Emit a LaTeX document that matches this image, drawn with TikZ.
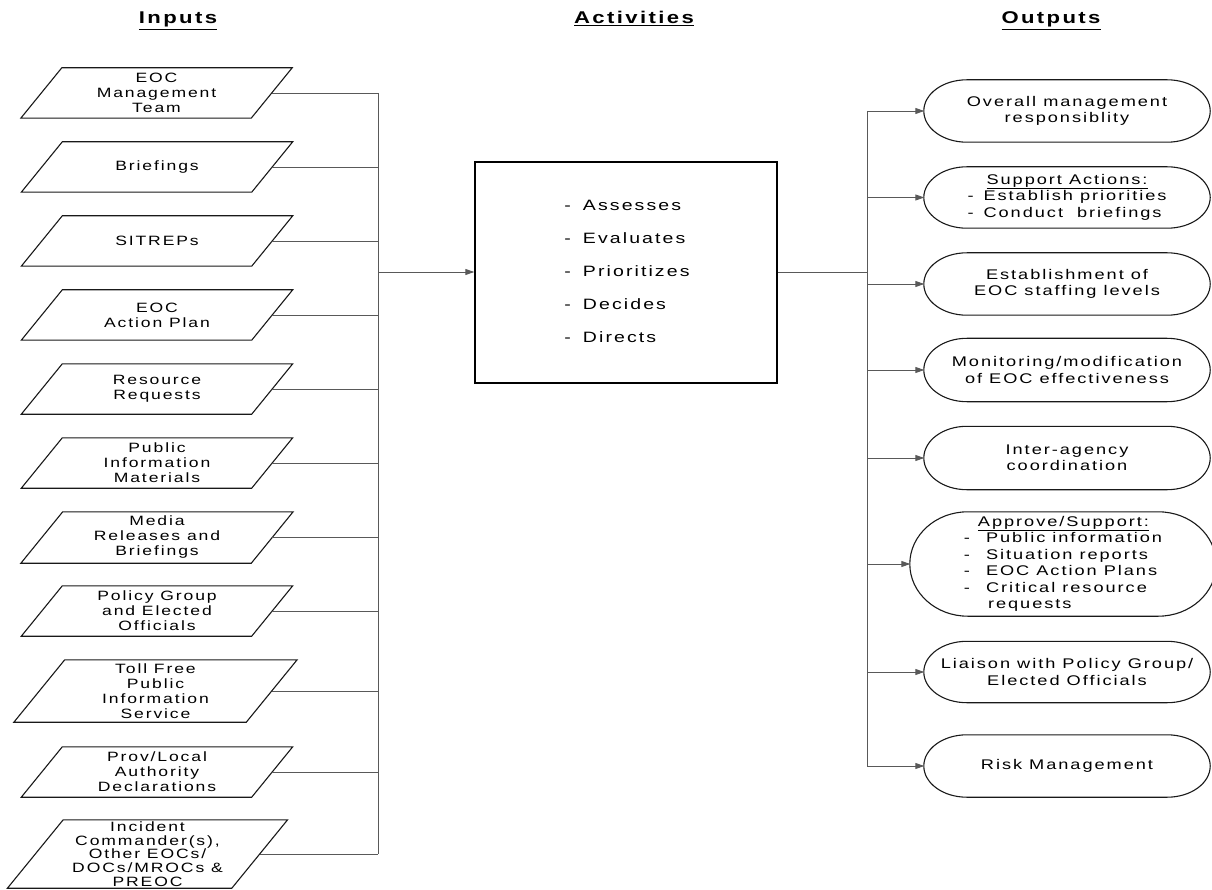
\documentclass[tikz,border=0pt]{standalone}
\usepackage{fontspec}
\setmainfont{Liberation Sans}[FakeStretch=1.3, LetterSpace=14]
\usetikzlibrary{arrows.meta,calc}
\begin{document}
\begin{tikzpicture}[x=1pt,y=-1pt,
  every node/.style={inner sep=0pt, text=black},
  hdr/.style={anchor=base, font=\fontsize{17}{20}\selectfont\bfseries},
  inbox/.style={minimum width=#1, align=center, font=\fontsize{13.5}{15}\selectfont},
  outbox/.style={minimum width=#1, align=center, font=\fontsize{14}{16.5}\selectfont},
  shapeline/.style={draw=black!90, line width=1.1pt},
  wire/.style={draw=black!65, line width=0.9pt},
  feed/.style={wire, -{Triangle[length=9pt,width=6pt]}, shorten >=-0.5pt},
]
\useasboundingbox (0,0) rectangle (1212,890);

% column headings
\node[hdr] (hIn)  at (178,24)  {\underline{Inputs}};
\node[hdr] (hAct) at (634,24)  {\underline{Activities}};
\node[hdr] (hOut) at (1051,24) {\underline{Outputs}};

% inputs (parallelograms drawn round these nodes)
\node[inbox=230, minimum height=50] (i1)  at (156.5,93)  {EOC\\Management\\Team};
\node[inbox=230, minimum height=50] (i2)  at (157,167)   {Briefings};
\node[inbox=230, minimum height=50] (i3)  at (157,241)   {SITREPs};
\node[inbox=230, minimum height=50] (i4)  at (157,315)   {EOC\\Action Plan};
\node[inbox=230, minimum height=50] (i5)  at (157,389)   {Resource\\Requests};
\node[inbox=230, minimum height=50] (i6)  at (157,463)   {Public\\Information\\Materials};
\node[inbox=230, minimum height=51] (i7)  at (157,537.5) {Media\\Releases and\\Briefings};
\node[inbox=230, minimum height=50] (i8)  at (157,611)   {Policy Group\\and Elected\\Officials};
\node[inbox=232, minimum height=62] (i9)  at (155.5,691) {Toll Free\\Public\\Information\\Service};
\node[inbox=230, minimum height=50] (i10) at (157,772)   {Prov/Local\\Authority\\Declarations};
\node[inbox=224, minimum height=68, font=\fontsize{13.5}{13.6}\selectfont] (i11) at (147.5,854)
  {Incident\\Commander(s),\\Other EOCs/\\DOCs/MROCs \&\\PREOC};

\foreach \nm/\h in {i1/50,i2/50,i3/50,i4/50,i5/50,i6/50,i7/51,i8/50,i9/62,i10/50,i11/68}{
  \draw[shapeline] ([xshift={0.41*\h}]\nm.north west) -- ([xshift={0.41*\h}]\nm.north east)
    -- ([xshift={-0.41*\h}]\nm.south east) -- ([xshift={-0.41*\h}]\nm.south west) -- cycle;
}

% activities box and its list
\node[draw=black, line width=2.4pt, minimum width=302, minimum height=221] (act) at (626,272.5) {};
\node[font=\fontsize{15}{33}\selectfont] (actlist) at (627,270)
  {\begin{tabular}{@{}l@{\hspace{12pt}}l@{}}
    - & Assesses\\
    - & Evaluates\\
    - & Prioritizes\\
    - & Decides\\
    - & Directs
   \end{tabular}};

% outputs (rounded outlines drawn round these nodes)
\node[outbox=286, minimum height=62] (o1) at (1067,111) {Overall management\\responsiblity};
\node[outbox=286, minimum height=61] (o2) at (1067,197.5)
  {\begin{tabular}{@{}l@{\hspace{10pt}}l@{}}
    \multicolumn{2}{@{}c@{}}{\underline{Support Actions:}}\\
    - & Establish priorities\\
    - & Conduct\ \ briefings
   \end{tabular}};
\node[outbox=286, minimum height=62] (o3) at (1067,284) {Establishment of\\EOC staffing levels};
\node[outbox=286, minimum height=63] (o4) at (1067,370) {Monitoring/modification\\of EOC effectiveness};
\node[outbox=286, minimum height=63] (o5) at (1067,458) {Inter-agency\\coordination};
\node[outbox=306, minimum height=104] (o6) at (1063,564)
  {\begin{tabular}{@{}l@{\hspace{16pt}}l@{}}
    \multicolumn{2}{@{\hspace{14pt}}l@{}}{\underline{Approve/Support:}}\\
    - & Public information\\
    - & Situation reports\\
    - & EOC Action Plans\\
    - & Critical resource\\
      & \hspace{2pt}requests
   \end{tabular}};
\node[outbox=286, minimum height=61] (o7) at (1067,672) {Liaison with Policy Group/\\Elected Officials};
\node[outbox=286, minimum height=62] (o8) at (1067,766) {Risk Management};

\foreach \nm/\r in {o1/43,o2/43,o3/43,o4/43,o5/43,o6/58,o7/43,o8/43}{
  \draw[shapeline] let \p1=(\nm.north), \p2=(\nm.south), \n1={abs(\y1-\y2)/2} in
    ([xshift=\r pt]\nm.north west) -- ([xshift=-\r pt]\nm.north east)
    arc[start angle=90, end angle=-90, x radius=\r pt, y radius=\n1]
    -- ([xshift=\r pt]\nm.south west)
    arc[start angle=270, end angle=90, x radius=\r pt, y radius=\n1] -- cycle;
}

% collecting bus on the input side
\coordinate (busL) at (378,272);
\foreach \nm in {i1,i2,i3,i4,i5,i6,i7,i8,i9,i10,i11}{
  \draw[wire] (\nm.east) -- (\nm.east -| busL);
}
\draw[wire] (i1.east -| busL) -- (i11.east -| busL);
\draw[feed] (busL) -- (busL -| act.west);

% distributing bus on the output side
\coordinate (busR) at (867,272);
\draw[wire] (busR -| act.east) -- (busR);
\draw[wire] (o1.west -| busR) -- (o8.west -| busR);
\foreach \nm in {o1,o2,o3,o4,o5,o6,o7,o8}{
  \draw[feed] (\nm.west -| busR) -- (\nm.west);
}
\end{tikzpicture}
\end{document}
